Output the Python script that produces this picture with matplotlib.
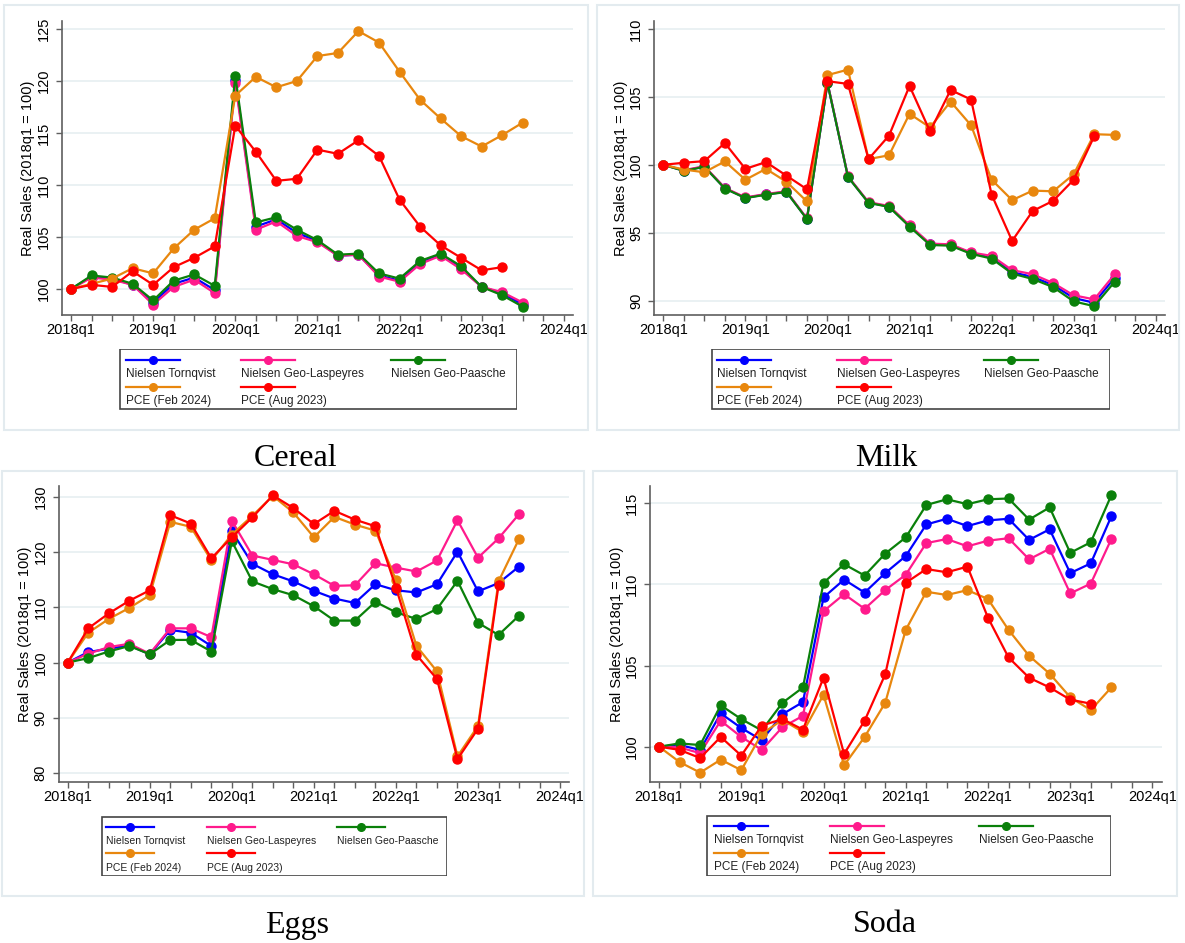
import matplotlib.pyplot as plt
import numpy as np
from matplotlib.patches import Rectangle
from matplotlib.lines import Line2D

W, H = 1185, 943

quarters = np.arange(23)
year_ticks = np.arange(0, 25, 4)
year_labels = ['2018q1', '2019q1', '2020q1', '2021q1', '2022q1', '2023q1', '2024q1']

series_names = ['Nielsen Tornqvist', 'Nielsen Geo-Laspeyres', 'Nielsen Geo-Paasche',
                'PCE (Feb 2024)', 'PCE (Aug 2023)']
colors = ['#0000ff', '#ff1a8c', '#0a800a', '#e8870e', '#ff0000']

# Cereal
cereal_blue = [100, 101.2, 101.0, 100.4, 98.7, 100.5, 101.1, 99.9, 120.1, 106.0, 106.7, 105.4,
               104.6, 103.2, 103.3, 101.3, 100.8, 102.5, 103.3, 102.0, 100.2, 99.6, 98.5]
cereal_pink = [100, 101.1, 100.9, 100.4, 98.5, 100.2, 100.9, 99.6, 119.8, 105.7, 106.5, 105.1,
               104.5, 103.2, 103.3, 101.2, 100.7, 102.4, 103.2, 101.9, 100.2, 99.7, 98.7]
cereal_green = [100, 101.3, 101.1, 100.5, 98.9, 100.8, 101.4, 100.3, 120.5, 106.4, 106.9, 105.7,
                104.7, 103.3, 103.4, 101.5, 101.0, 102.7, 103.4, 102.2, 100.2, 99.4, 98.3]
cereal_pce_feb = [100, 100.5, 101.0, 102.0, 101.5, 103.9, 105.7, 106.8, 118.6, 120.4, 119.4, 120.0,
                  122.4, 122.7, 124.8, 123.7, 120.9, 118.2, 116.4, 114.7, 113.7, 114.8, 116.0]
cereal_pce_aug = [100, 100.4, 100.2, 101.7, 100.4, 102.1, 103.0, 104.1, 115.7, 113.2, 110.4, 110.6,
                  113.4, 113.0, 114.3, 112.8, 108.6, 106.0, 104.2, 103.0, 101.8, 102.1]

# Milk
milk_blue = [100, 99.57, 99.87, 98.27, 97.57, 97.82, 98.02, 96.02, 106.02, 99.12, 97.22, 96.93,
             95.5, 94.15, 94.1, 93.5, 93.2, 92.1, 91.75, 91.15, 90.2, 89.85, 91.7]
milk_pink = [100, 99.6, 99.9, 98.3, 97.6, 97.85, 98.05, 96.05, 106.05, 99.15, 97.25, 96.97,
             95.55, 94.2, 94.15, 93.55, 93.3, 92.25, 91.95, 91.3, 90.4, 90.1, 91.95]
milk_green = [100, 99.55, 99.85, 98.25, 97.55, 97.8, 98.0, 96.0, 106.0, 99.1, 97.2, 96.9,
              95.45, 94.1, 94.05, 93.45, 93.1, 92.0, 91.6, 91.0, 89.95, 89.6, 91.4]
milk_pce_feb = [100, 99.65, 99.45, 100.25, 98.9, 99.7, 98.75, 97.3, 106.6, 107.0, 100.42, 100.7,
                103.75, 102.75, 104.65, 102.9, 98.9, 97.4, 98.1, 98.05, 99.3, 102.25, 102.2]
milk_pce_aug = [100, 100.15, 100.27, 101.6, 99.7, 100.2, 99.2, 98.2, 106.15, 105.95, 100.42, 102.15,
                105.8, 102.45, 105.5, 104.8, 97.8, 94.4, 96.6, 97.35, 98.9, 102.1]

# Eggs
eggs_blue = [100, 101.9, 102.5, 103.1, 101.5, 105.9, 105.4, 103.0, 123.8, 117.9, 116.0, 114.7,
             113.0, 111.6, 110.8, 114.2, 113.1, 112.7, 114.2, 120.1, 112.9, 114.4, 117.4]
eggs_pink = [100, 101.6, 102.8, 103.4, 101.6, 106.2, 106.2, 104.6, 125.7, 119.4, 118.6, 117.8,
             116.0, 113.9, 114.0, 118.0, 117.2, 116.5, 118.5, 125.8, 119.0, 122.5, 126.9]
eggs_green = [100, 100.8, 102.0, 103.0, 101.5, 104.1, 104.1, 102.0, 122.0, 114.7, 113.3, 112.2,
              110.2, 107.6, 107.6, 111.0, 109.1, 107.9, 109.7, 114.8, 107.2, 105.0, 108.5]
eggs_pce_feb = [100, 105.4, 107.9, 109.9, 112.2, 125.5, 124.6, 118.5, 123.2, 126.6, 130.2, 127.2,
                122.7, 126.4, 125.0, 123.9, 115.0, 103.0, 98.4, 83.0, 88.5, 114.7, 122.4]
eggs_pce_aug = [100, 106.2, 108.9, 111.2, 113.1, 126.7, 125.2, 118.9, 122.7, 126.3, 130.3, 128.0,
                125.1, 127.5, 125.9, 124.7, 113.6, 101.4, 97.0, 82.5, 88.0, 114.0]

# Soda
soda_blue = [100, 100.1, 99.8, 102.05, 101.15, 100.4, 102.0, 102.75, 109.2, 110.3, 109.5, 110.7,
             111.75, 113.7, 114.05, 113.6, 113.95, 114.05, 112.75, 113.4, 110.7, 111.3, 114.2]
soda_pink = [100, 99.95, 99.6, 101.6, 100.6, 99.8, 101.2, 101.9, 108.35, 109.4, 108.5, 109.65,
             110.6, 112.55, 112.8, 112.35, 112.7, 112.85, 111.55, 112.2, 109.45, 110.05, 112.8]
soda_green = [100, 100.2, 100.1, 102.55, 101.7, 101.0, 102.7, 103.65, 110.1, 111.25, 110.55, 111.9,
              112.9, 114.9, 115.25, 114.95, 115.25, 115.3, 114.0, 114.75, 111.95, 112.6, 115.5]
soda_pce_feb = [100, 99.05, 98.4, 99.2, 98.55, 100.8, 101.65, 100.9, 103.2, 98.85, 100.6, 102.7,
                107.2, 109.55, 109.35, 109.65, 109.1, 107.2, 105.6, 104.5, 103.05, 102.25, 103.65]
soda_pce_aug = [100, 99.8, 99.3, 100.6, 99.45, 101.3, 101.7, 101.05, 104.25, 99.55, 101.6, 104.45,
                110.1, 110.95, 110.75, 111.1, 107.95, 105.5, 104.25, 103.65, 102.9, 102.65]

panels = [
    dict(title='Cereal', data=[cereal_blue, cereal_pink, cereal_green, cereal_pce_feb, cereal_pce_aug],
         box=(4, 5, 588, 430), ax=(62, 20.7, 573, 315), ylim=(97.5, 125.8), yticks=[100, 105, 110, 115, 120, 125],
         leg=(119, 349, 517, 410), cols=(7, 122, 272), klen=54, lfs=8.5, tpos=(296, 458)),
    dict(title='Milk', data=[milk_blue, milk_pink, milk_green, milk_pce_feb, milk_pce_aug],
         box=(597, 5, 1179, 430), ax=(654.3, 20.7, 1165, 315), ylim=(88.95, 110.6), yticks=[90, 95, 100, 105, 110],
         leg=(711, 349, 1110, 410), cols=(6, 126, 273), klen=54, lfs=8.5, tpos=(886, 458)),
    dict(title='Eggs', data=[eggs_blue, eggs_pink, eggs_green, eggs_pce_feb, eggs_pce_aug],
         box=(2, 471, 584, 896), ax=(58.7, 486, 569.3, 781.7), ylim=(78.4, 132), yticks=[80, 90, 100, 110, 120, 130],
         leg=(101, 816, 447, 876), cols=(5, 106, 236), klen=48, lfs=7.5, tpos=(297, 925)),
    dict(title='Soda', data=[soda_blue, soda_pink, soda_green, soda_pce_feb, soda_pce_aug],
         box=(593, 471, 1177, 896), ax=(650, 486, 1161.7, 781.7), ylim=(97.84, 116.07), yticks=[100, 105, 110, 115],
         leg=(706, 815, 1111, 876), cols=(8, 124, 273), klen=54, lfs=8.5, tpos=(885, 925)),
]

plt.rcParams['font.family'] = ['Liberation Sans', 'DejaVu Sans']
fig = plt.figure(figsize=(W / 100, H / 100), dpi=100)


def frac(l, t, r, b):
    return [l / W, 1 - b / H, (r - l) / W, (b - t) / H]


axis_col = '#5f5f5f'
for p in panels:
    # light frame around each graph
    l, t, r, b = p['box']
    fig.patches.append(Rectangle((l / W, 1 - b / H), (r - l) / W, (b - t) / H,
                                 transform=fig.transFigure, fill=False, ec='#e3ebef', lw=1.5))

    ax = fig.add_axes(frac(*p['ax']))
    for vals, c in zip(p['data'], colors):
        ax.plot(quarters[:len(vals)], vals, '-o', color=c, lw=1.6, ms=6.5, mec=c, zorder=3)
    ax.set_xlim(-0.44, 24.45)
    ax.set_ylim(*p['ylim'])
    ax.set_xticks(year_ticks)
    ax.set_xticklabels(year_labels)
    ax.set_xticks(np.arange(25), minor=True)
    ax.set_yticks(p['yticks'])
    ax.set_yticklabels([str(v) for v in p['yticks']], rotation=90, va='center')
    ax.yaxis.grid(True, color='#e6eff1', lw=1.2)
    ax.set_axisbelow(True)
    for s in ['top', 'right']:
        ax.spines[s].set_visible(False)
    for s in ['left', 'bottom']:
        ax.spines[s].set_color(axis_col)
        ax.spines[s].set_linewidth(1.2)
    ax.tick_params(which='both', direction='out', length=4, width=1, color=axis_col, labelsize=10.5)
    ax.tick_params(axis='x', pad=2)
    ax.tick_params(axis='y', pad=4)
    ax.set_ylabel('Real Sales (2018q1 = 100)', fontsize=10.5, labelpad=1)

    # stacked legend (key above label)
    l, t, r, b = p['leg']
    lax = fig.add_axes(frac(l, t, r, b))
    lw_, lh = r - l, b - t
    lax.set_xlim(0, lw_)
    lax.set_ylim(lh, 0)
    lax.axis('off')
    lax.add_patch(Rectangle((0.5, 0.5), lw_ - 1, lh - 1, fill=False, ec='#444444', lw=1.2))
    rows_key = [lh * 0.18, lh * 0.62]
    rows_txt = [lh * 0.41, lh * 0.86]
    for i, (name, c) in enumerate(zip(series_names, colors)):
        row, col = divmod(i, 3)
        x0 = p['cols'][col]
        lax.add_line(Line2D([x0, x0 + p['klen']], [rows_key[row]] * 2, color=c, lw=1.6))
        lax.plot([x0 + p['klen'] / 2], [rows_key[row]], 'o', color=c, ms=5.5)
        lax.text(x0, rows_txt[row], name, fontsize=p['lfs'], va='center', ha='left', color='#222222')

    fig.text(p['tpos'][0] / W, 1 - p['tpos'][1] / H, p['title'], family='Liberation Serif',
             fontsize=23, ha='center', va='center')

fig.savefig('out.png', dpi=100, facecolor='white')
